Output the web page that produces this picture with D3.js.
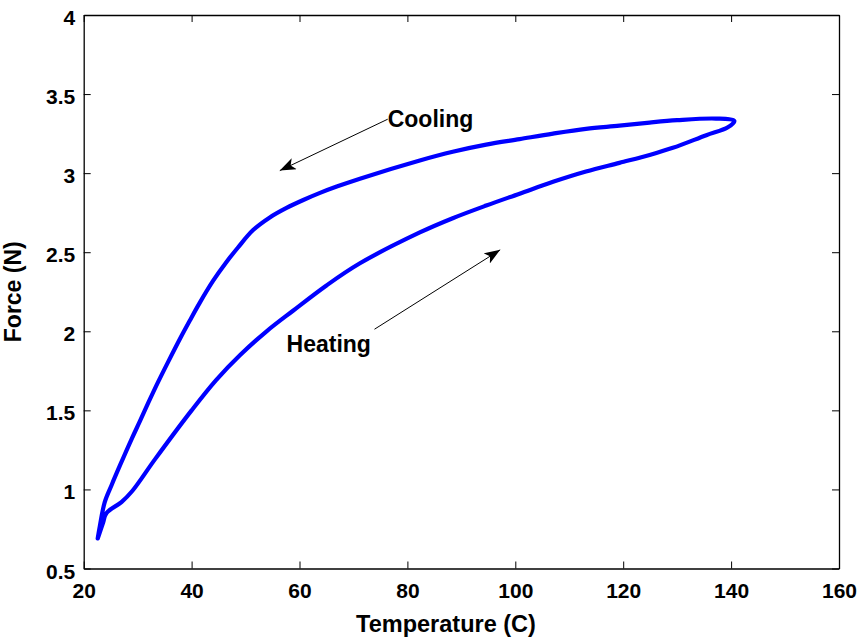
<!DOCTYPE html>
<html>
<head>
<meta charset="utf-8">
<script src="https://cdn.jsdelivr.net/npm/d3@7"></script>
<style>
  html, body { margin: 0; padding: 0; background: #fff; }
  svg { display: block; }
  text { font-family: "Liberation Sans", Arial, Helvetica, sans-serif; font-weight: bold; fill: #000; }
</style>
</head>
<body>
<svg id="chart" width="863" height="638"></svg>
<script>
// Heating branch (lower), increasing temperature
const heatT = [22.6, 23.6, 24.2, 27.0, 29.0, 33.2, 40.0, 44.5, 49.0, 53.9, 58.8, 65.0, 71.2, 82.3, 88.4, 94.6, 100.8, 107.0, 113.1, 119.3, 124.9, 129.2, 135.4, 139.4, 140.6];
const heatF = [0.69, 0.79, 0.85, 0.92, 0.99, 1.19, 1.50, 1.69, 1.85, 2.00, 2.13, 2.29, 2.43, 2.625, 2.715, 2.795, 2.87, 2.945, 3.01, 3.065, 3.115, 3.16, 3.24, 3.29, 3.33];
// Cooling branch (upper), decreasing temperature
const coolT = [140.6, 137.2, 130.0, 124.9, 119.3, 113.1, 107.0, 100.8, 94.6, 88.4, 82.3, 71.2, 66.9, 63.8, 60.7, 57.6, 54.5, 51.4, 48.6, 46.5, 44.0, 41.5, 39.7, 37.8, 35.7, 33.8, 32.0, 30.4, 28.9, 26.7, 25.2, 23.9, 23.0, 22.6];
const coolF = [3.33, 3.345, 3.335, 3.32, 3.30, 3.28, 3.25, 3.215, 3.18, 3.135, 3.08, 2.965, 2.915, 2.875, 2.83, 2.78, 2.72, 2.64, 2.53, 2.44, 2.32, 2.18, 2.07, 1.95, 1.81, 1.68, 1.55, 1.43, 1.32, 1.15, 1.03, 0.92, 0.77, 0.69];

const xTicks = [20, 40, 60, 80, 100, 120, 140, 160];
const yTicks = [0.5, 1, 1.5, 2, 2.5, 3, 3.5, 4];
const yTickLabels = ["0.5", "1", "1.5", "2", "2.5", "3", "3.5", "4"];

const xLabel = "Temperature (C)";
const yLabel = "Force (N)";
const annCooling = { text: "Cooling", tx: 76.35, ty: 3.289, from: [76.35, 3.341], to: [56.35, 3.016] };
const annHeating = { text: "Heating", tx: 57.6, ty: 1.871, from: [73.9, 2.013], to: [97.2, 2.515] };

const W = 863, H = 638;
const m = { left: 83.7, top: 15, right: 24, bottom: 69.5 };
const svg = d3.select("#chart");
const x = d3.scaleLinear().domain([20, 160]).range([m.left, W - m.right]);
const y = d3.scaleLinear().domain([0.5, 4]).range([H - m.bottom, m.top]);

const defs = svg.append("defs");
defs.append("marker").attr("id", "arrow").attr("viewBox", "0 0 16 12")
  .attr("refX", 16).attr("refY", 6).attr("markerWidth", 16).attr("markerHeight", 12)
  .attr("markerUnits", "userSpaceOnUse").attr("orient", "auto")
  .append("path").attr("d", "M0,0 L16,6 L0,12 L4,6 Z").attr("fill", "#000");

// data line
const pts = heatT.map((t, i) => [t, heatF[i]]).concat(coolT.slice(1).map((t, i) => [t, coolF[i + 1]]));
const line = d3.line().x(d => x(d[0])).y(d => y(d[1])).curve(d3.curveCatmullRom.alpha(0.5));
svg.append("path").datum(pts).attr("d", line)
  .attr("fill", "none").attr("stroke", "#0000ff").attr("stroke-width", 4.2)
  .attr("stroke-linejoin", "round").attr("stroke-linecap", "round");

// axes
const fs = 21;
const gx = svg.append("g").attr("transform", `translate(0,${H - m.bottom})`)
  .call(d3.axisBottom(x).tickValues(xTicks).tickSize(-7).tickSizeOuter(0).tickFormat(d3.format("d")));
gx.selectAll("text").attr("y", 29).attr("dy", null).style("font-size", fs + "px");
const gxt = svg.append("g").attr("transform", `translate(0,${m.top})`)
  .call(d3.axisTop(x).tickValues(xTicks).tickSize(-7).tickSizeOuter(0).tickFormat(""));
const gy = svg.append("g").attr("transform", `translate(${m.left},0)`)
  .call(d3.axisLeft(y).tickValues(yTicks).tickSize(-7).tickSizeOuter(0).tickFormat((d, i) => yTickLabels[i]));
gy.selectAll("text").attr("x", -8.5).attr("dy", null).attr("y", 9.5).style("font-size", fs + "px");
const gyr = svg.append("g").attr("transform", `translate(${W - m.right},0)`)
  .call(d3.axisRight(y).tickValues(yTicks).tickSize(-7).tickSizeOuter(0).tickFormat(""));
[gx, gxt, gy, gyr].forEach(g => {
  g.selectAll("path.domain").attr("stroke", "#000").attr("stroke-width", 1.3);
  g.selectAll(".tick line").attr("stroke", "#000").attr("stroke-width", 1);
  g.attr("font-family", null).attr("font-size", null);
});

// axis labels
svg.append("text").attr("x", 446).attr("y", 632).attr("text-anchor", "middle")
  .style("font-size", "23.5px").text(xLabel);
svg.append("text").attr("transform", `translate(21,${(m.top + H - m.bottom) / 2}) rotate(-90)`)
  .attr("text-anchor", "middle").style("font-size", "23px").text(yLabel);

// annotations
[annCooling, annHeating].forEach(a => {
  svg.append("line").attr("x1", x(a.from[0])).attr("y1", y(a.from[1]))
    .attr("x2", x(a.to[0])).attr("y2", y(a.to[1]))
    .attr("stroke", "#000").attr("stroke-width", 1).attr("marker-end", "url(#arrow)");
  svg.append("text").attr("x", x(a.tx)).attr("y", y(a.ty)).style("font-size", "23px").text(a.text);
});
</script>
</body>
</html>
